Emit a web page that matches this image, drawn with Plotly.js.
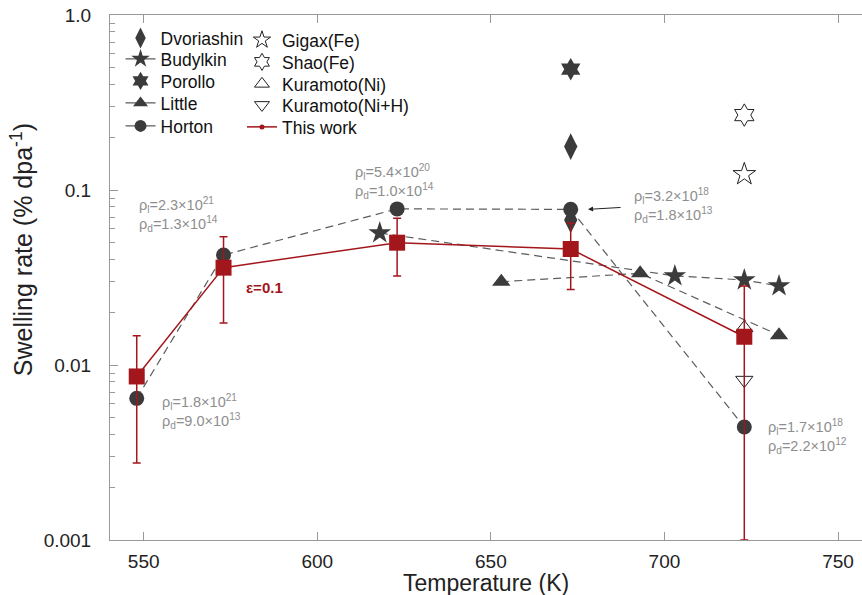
<!DOCTYPE html>
<html>
<head>
<meta charset="utf-8">
<script src="https://cdn.plot.ly/plotly-3.0.1.min.js"></script>
<style>
  html, body { margin: 0; padding: 0; background: #fff; }
  #chart { width: 862px; height: 595px; }
</style>
</head>
<body>
<div id="chart"></div>
<script>
// Swelling rate vs irradiation temperature, literature data and this work
const thisWorkT = [548, 573, 623, 673, 723];
const thisWorkRate = [0.0086, 0.036, 0.050, 0.046, 0.0145];
const thisWorkHigh = [0.0147, 0.054, 0.069, 0.0645, 0.0283];
const thisWorkLow = [0.00275, 0.0174, 0.0323, 0.027, 0.001];

const hortonT = [548, 573, 623, 673, 723];
const hortonRate = [0.00645, 0.0425, 0.078, 0.0775, 0.00442];

const budylkinT = [618, 703, 723, 733];
const budylkinRate = [0.0568, 0.0323, 0.0306, 0.0283];

const littleT = [653, 693, 733];
const littleRate = [0.0299, 0.0334, 0.0148];

const dvoriashinT = [673, 673];
const dvoriashinRate = [0.177, 0.0674];

const porolloT = [673];
const porolloRate = [0.49];

const gigaxT = [723];
const gigaxRate = [0.123];

const shaoT = [723];
const shaoRate = [0.268];

const kuramotoNiT = [723];
const kuramotoNiRate = [0.0163];

const kuramotoNiHT = [723];
const kuramotoNiHRate = [0.0082];

const xTicks = [550, 600, 650, 700, 750];
const yTicks = [0.001, 0.01, 0.1, 1];
const yTickText = ['0.001', '0.01', '0.1', '1.0'];

const DARK = '#3b3b3b';
const DASH = '#5c5c5c';
const RED = '#a3161c';
const NOTE = '#8e8e8e';
const FONT = 'Liberation Sans, Arial, sans-serif';

const minorY = [];
[0.001, 0.01, 0.1].forEach(d => { for (let k = 2; k <= 9; k++) minorY.push(+(d * k).toPrecision(3)); });

const dashLine = { color: DASH, width: 1.2, dash: '8px,5px' };
const keyLine = { color: DASH, width: 1.2 };
const openLine = { width: 1, color: '#222' };

// data series (legend keys are separate, smaller entries below)
const series = [
  { name: 'Dvoriashin', x: dvoriashinT, y: dvoriashinRate, mode: 'markers',
    marker: { symbol: 'diamond-tall', size: 19, color: DARK } },
  { name: 'Budylkin', x: budylkinT, y: budylkinRate, mode: 'lines+markers',
    line: dashLine, marker: { symbol: 'star', size: 17, color: DARK } },
  { name: 'Porollo', x: porolloT, y: porolloRate, mode: 'markers',
    marker: { symbol: 'hexagram', size: 17, color: DARK } },
  { name: 'Little', x: littleT, y: littleRate, mode: 'lines+markers',
    line: dashLine, marker: { symbol: 'triangle-up', size: 16, color: DARK } },
  { name: 'Horton', x: hortonT, y: hortonRate, mode: 'lines+markers',
    line: dashLine, marker: { symbol: 'circle', size: 15, color: DARK } },
  { name: 'Gigax(Fe)', x: gigaxT, y: gigaxRate, mode: 'markers',
    marker: { symbol: 'star-open', size: 17, color: '#222', line: openLine } },
  { name: 'Shao(Fe)', x: shaoT, y: shaoRate, mode: 'markers',
    marker: { symbol: 'hexagram-open', size: 17, color: '#222', line: openLine } },
  { name: 'Kuramoto(Ni)', x: kuramotoNiT, y: kuramotoNiRate, mode: 'markers',
    marker: { symbol: 'triangle-up-open', size: 15, color: '#222', line: openLine } },
  { name: 'Kuramoto(Ni+H)', x: kuramotoNiHT, y: kuramotoNiHRate, mode: 'markers',
    marker: { symbol: 'triangle-down-open', size: 15, color: '#222', line: openLine } },
  { name: 'This work', x: thisWorkT, y: thisWorkRate, mode: 'lines+markers',
    line: { color: RED, width: 1.5 },
    marker: { symbol: 'square', size: 16, color: RED },
    error_y: {
      type: 'data', symmetric: false,
      array: thisWorkHigh.map((h, i) => h - thisWorkRate[i]),
      arrayminus: thisWorkLow.map((l, i) => thisWorkRate[i] - l),
      color: RED, thickness: 1.5, width: 4
    } }
].map(t => Object.assign(t, { showlegend: false }));

// legend keys, one legend box each
const keyEntry = (name, legend, mode, marker, line) => ({
  name: name, legend: legend, x: [null], y: [null], mode: mode, marker: marker,
  line: line || { width: 0 }, showlegend: true
});
const keys = [
  keyEntry('Dvoriashin', 'legend', 'markers', { symbol: 'diamond-tall', size: 15, color: DARK }),
  keyEntry('Budylkin', 'legend2', 'lines+markers', { symbol: 'star', size: 14, color: DARK }, keyLine),
  keyEntry('Porollo', 'legend3', 'markers', { symbol: 'hexagram', size: 14, color: DARK }),
  keyEntry('Little', 'legend4', 'lines+markers', { symbol: 'triangle-up', size: 13, color: DARK }, keyLine),
  keyEntry('Horton', 'legend5', 'lines+markers', { symbol: 'circle', size: 12, color: DARK }, keyLine),
  keyEntry('Gigax(Fe)', 'legend6', 'markers', { symbol: 'star-open', size: 13, color: '#222', line: openLine }),
  keyEntry('Shao(Fe)', 'legend7', 'markers', { symbol: 'hexagram-open', size: 13, color: '#222', line: openLine }),
  keyEntry('Kuramoto(Ni)', 'legend8', 'markers', { symbol: 'triangle-up-open', size: 13, color: '#222', line: openLine }),
  keyEntry('Kuramoto(Ni+H)', 'legend9', 'markers', { symbol: 'triangle-down-open', size: 13, color: '#222', line: openLine }),
  keyEntry('This work', 'legend10', 'lines+markers', { symbol: 'circle', size: 5, color: RED }, { color: RED, width: 1.5 })
];

const noteFont = { family: FONT, size: 14.5, color: NOTE };
const note = (x, v, text) => ({
  x: x, y: Math.log10(v), xref: 'x', yref: 'y', text: text, showarrow: false,
  xanchor: 'left', yanchor: 'middle', align: 'left', font: noteFont
});

const annotations = [
  note(548.1, 0.072, 'ρ<sub>l</sub>=2.3×10<sup>21</sup><br>ρ<sub>d</sub>=1.3×10<sup>14</sup>'),
  note(610.3, 0.1125, 'ρ<sub>l</sub>=5.4×10<sup>20</sup><br>ρ<sub>d</sub>=1.0×10<sup>14</sup>'),
  note(690.7, 0.082, 'ρ<sub>l</sub>=3.2×10<sup>18</sup><br>ρ<sub>d</sub>=1.8×10<sup>13</sup>'),
  note(729.3, 0.00388, 'ρ<sub>l</sub>=1.7×10<sup>18</sup><br>ρ<sub>d</sub>=2.2×10<sup>12</sup>'),
  note(554.7, 0.00539, 'ρ<sub>l</sub>=1.8×10<sup>21</sup><br>ρ<sub>d</sub>=9.0×10<sup>13</sup>'),
  { x: 678.0, y: Math.log10(0.0775), xref: 'x', yref: 'y', text: '', showarrow: true,
    ax: 34, ay: -2, arrowhead: 2, arrowsize: 1, arrowwidth: 1, arrowcolor: '#222', standoff: 0 },
  { x: 584.7, y: Math.log10(0.0279), xref: 'x', yref: 'y', text: '<b>ε=0.1</b>', showarrow: false,
    xanchor: 'center', yanchor: 'middle', font: { family: FONT, size: 15, color: RED } },
  // axis titles
  { x: 0.5, y: -0.082, xref: 'paper', yref: 'paper', text: 'Temperature (K)', showarrow: false,
    xanchor: 'center', yanchor: 'middle', font: { family: FONT, size: 23, color: '#222' } },
  { x: -0.117, y: 0.552, xref: 'paper', yref: 'paper', text: 'Swelling rate (% dpa<sup>-1</sup>)',
    showarrow: false, textangle: -90, xanchor: 'center', yanchor: 'middle',
    font: { family: FONT, size: 25, color: '#222' } }
];

const legendFont = { family: FONT, size: 17.5, color: '#111' };
const pyPaper = px => 1 - (px - 15) / 525;
const key = (x, ypx) => ({
  x: x, y: pyPaper(ypx), xref: 'paper', yref: 'paper', xanchor: 'left', yanchor: 'middle',
  bgcolor: 'rgba(0,0,0,0)', borderwidth: 0, font: legendFont, itemwidth: 30
});
const col1 = 0.014, col2 = 0.1755;

const layout = {
  width: 862, height: 595,
  margin: { l: 110, r: 0, t: 15, b: 55 },
  paper_bgcolor: '#fff', plot_bgcolor: '#fff',
  font: { family: FONT, color: '#222' },
  xaxis: {
    range: [540.3, 756.9], tickvals: xTicks, ticks: 'inside', ticklen: 8, tickcolor: '#999',
    showline: true, linecolor: '#999', linewidth: 1, mirror: 'ticks', showgrid: false, zeroline: false,
    tickfont: { family: FONT, size: 19, color: '#222' }, ticklabelstandoff: 4
  },
  yaxis: {
    type: 'log', range: [-3, 0], tickvals: yTicks, ticktext: yTickText,
    ticks: 'inside', ticklen: 8, tickcolor: '#999',
    minor: { tickvals: minorY, ticks: 'inside', ticklen: 5, tickcolor: '#999', showgrid: false },
    showline: true, linecolor: '#999', linewidth: 1, mirror: false, showgrid: false, zeroline: false,
    tickfont: { family: FONT, size: 19, color: '#222' }, ticklabelstandoff: 14
  },
  legend: key(col1, 38),
  legend2: key(col1, 59),
  legend3: key(col1, 81),
  legend4: key(col1, 103),
  legend5: key(col1, 126),
  legend6: key(col2, 40),
  legend7: key(col2, 62),
  legend8: key(col2, 84),
  legend9: key(col2, 105),
  legend10: key(col2, 127),
  annotations: annotations,
  showlegend: true
};

Plotly.newPlot('chart', series.concat(keys), layout, { displayModeBar: false, staticPlot: true });
</script>
</body>
</html>
